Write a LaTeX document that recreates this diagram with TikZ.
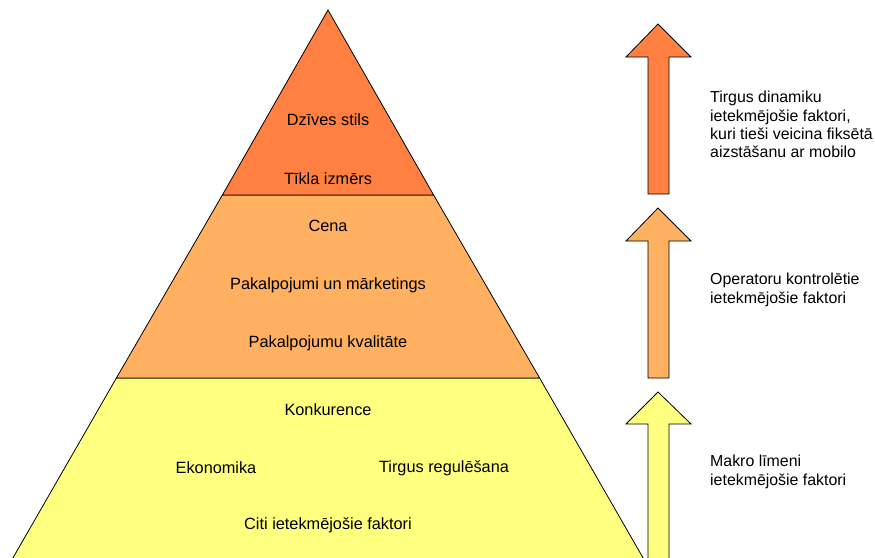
\documentclass[tikz,border=0pt]{standalone}
\usepackage{fontspec}
\setmainfont{Liberation Sans}
\definecolor{topband}{RGB}{255,128,64}
\definecolor{midband}{RGB}{255,176,96}
\definecolor{lowband}{RGB}{255,255,128}
\tikzset{
  band/.style={draw=black, line width=0.8pt, line join=miter},
  label/.style={font=\fontsize{16.3}{18.4}\selectfont, inner sep=0pt, anchor=center},
  side/.style={font=\fontsize{15.9}{18.4}\selectfont, inner sep=0pt, anchor=north west, align=left},
  uparrow/.style={draw=black, line width=0.8pt, line join=miter},
}
% up arrow: tip y, head base y, shaft bottom y
\newcommand{\levelarrow}[4]{%
  \draw[uparrow, fill=#1] (658,#2) -- (691,#3) -- (669,#3) -- (669,#4)
    -- (648,#4) -- (648,#3) -- (626,#3) -- cycle;}
\begin{document}
\begin{tikzpicture}[x=1pt,y=-1pt]
\useasboundingbox (0,0) rectangle (875,557);
\fill[white] (0,0) rectangle (875,557);

% pyramid levels (the base runs past the lower edge)
\draw[band, fill=lowband] (116.4,378) -- (539.6,378) -- (648.3,567) -- (7.7,567) -- cycle;
\draw[band, fill=midband] (222.4,195) -- (433.6,195) -- (539.6,378) -- (116.4,378) -- cycle;
\draw[band, fill=topband] (328,10) -- (433.6,195) -- (222.4,195) -- cycle;

% level labels
\node[label] (l1) at (328,120) {Dzīves stils};
\node[label] (l2) at (328,179) {Tīkla izmērs};
\node[label] (m1) at (328,226) {Cena};
\node[label] (m2) at (328,285) {Pakalpojumi un mārketings};
\node[label] (m3) at (328,343) {Pakalpojumu kvalitāte};
\node[label] (b1) at (328,410) {Konkurence};
\node[label] (b2) at (216,468) {Ekonomika};
\node[label] (b3) at (444,468) {Tirgus regulēšana};
\node[label] (b4) at (328,525) {Citi ietekmējošie faktori};

% arrows beside each level
\levelarrow{topband}{24}{57}{194}
\levelarrow{midband}{208}{241}{378}
\levelarrow{lowband}{392}{424}{567}

% side descriptions
\node[side] (d1) at (710,91) {Tirgus dinamiku\\ietekmējošie faktori,\\kuri tieši veicina fiksētā\\aizstāšanu ar mobilo};
\node[side] (d2) at (710,273) {Operatoru kontrolētie\\ietekmējošie faktori};
\node[side] (d3) at (710,455) {Makro līmeni\\ietekmējošie faktori};
\end{tikzpicture}
\end{document}
